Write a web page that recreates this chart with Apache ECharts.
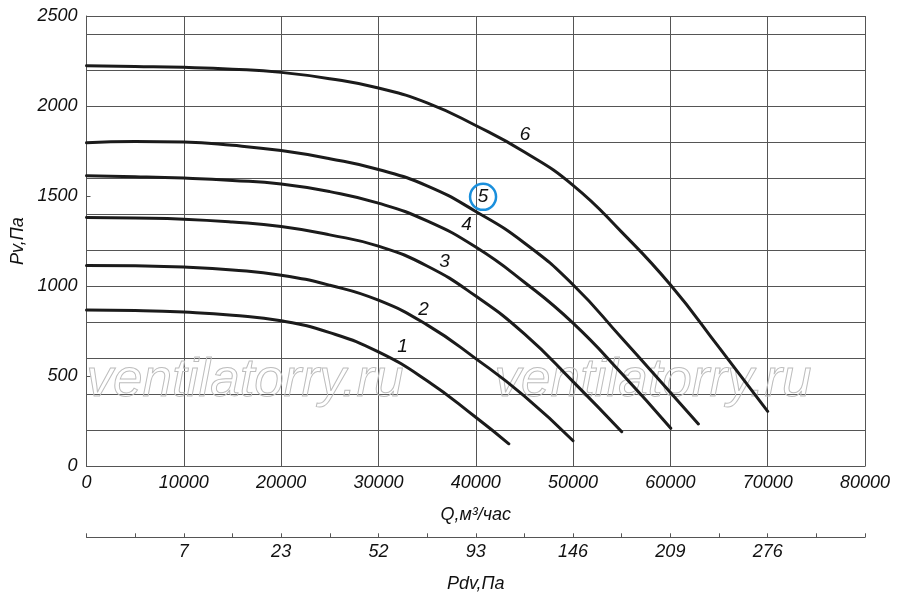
<!DOCTYPE html>
<html>
<head>
<meta charset="utf-8">
<script src="https://cdn.jsdelivr.net/npm/echarts@6/dist/echarts.min.js"></script>
<style>
html,body{margin:0;padding:0;background:#fff;}
#chart{width:900px;height:604px;}
</style>
</head>
<body>
<div id="chart"></div>
<script>
// ---- data (Q, м³/час ; Pv, Па) ----
const curve1 = [[0,868],[5000,865],[10000,856],[15000,839],[20000,808],[25000,742],[30000,635],[35000,475],[40000,272],[43400,125]];
const curve2 = [[0,1115],[5000,1113],[10000,1106],[15000,1090],[20000,1061],[25000,1005],[30000,922],[35000,785],[40000,598],[45000,390],[50000,142]];
const curve3 = [[0,1381],[5000,1378],[10000,1372],[15000,1356],[20000,1331],[25000,1285],[30000,1222],[35000,1112],[40000,945],[45000,735],[50000,470],[55000,192]];
const curve4 = [[0,1613],[5000,1608],[10000,1600],[15000,1587],[20000,1567],[25000,1525],[30000,1461],[35000,1362],[40000,1217],[45000,1022],[50000,795],[55000,515],[60040,211]];
const curve5 = [[0,1796],[5000,1803],[10000,1800],[15000,1782],[20000,1753],[25000,1708],[30000,1648],[35000,1557],[40000,1415],[45000,1240],[50000,1008],[55000,712],[60000,410],[62880,235]];
const curve6 = [[0,2224],[5000,2220],[10000,2215],[15000,2205],[20000,2187],[25000,2152],[30000,2100],[35000,2018],[40000,1892],[45000,1745],[50000,1560],[55000,1300],[60000,1008],[65000,660],[70000,305]];
const curves = [curve1, curve2, curve3, curve4, curve5, curve6];
// curve number labels: [text, Q, Pv]
const curveLabels = [['1',32480,663],['2',34630,868],['3',36790,1135],['4',39050,1340],['5',40750,1496],['6',45070,1841]];
const circledLabel = '5';
// dynamic pressure scale
const pdvQ = [10000,20000,30000,40000,50000,60000,70000];
const pdvLabels = ['7','23','52','93','146','209','276'];
const watermark = 'ventilatorry.ru';

const FONT = '"Liberation Sans", Arial, sans-serif';
const TXT = '#111';
const GRIDC = '#555';

const chart = echarts.init(document.getElementById('chart'), null, {renderer:'canvas'});

const series = curves.map((c, i) => ({
  name: 'curve' + (i+1),
  type: 'line',
  xAxisIndex: 0, yAxisIndex: 0,
  data: c,
  smooth: 0.5,
  symbol: 'none',
  lineStyle: {color: '#1b1b1b', width: 3, cap: 'round'},
  z: 3,
  silent: true
}));

series.push({
  type: 'scatter',
  xAxisIndex: 0, yAxisIndex: 0,
  data: curveLabels.map(l => ({
    value: [l[1], l[2]],
    name: l[0],
    symbol: 'circle',
    symbolSize: l[0] === circledLabel ? 26 : 1,
    itemStyle: l[0] === circledLabel
      ? {color: 'rgba(255,255,255,0)', borderColor: '#1a8fdc', borderWidth: 2.5, opacity: 1}
      : {color: 'rgba(255,255,255,0)', borderWidth: 0, opacity: 1}
  })),
  itemStyle: {opacity: 1},
  label: {
    show: true, position: 'inside',
    formatter: p => p.name,
    color: TXT, fontSize: 19, fontStyle: 'italic', fontFamily: FONT, opacity: 1,
    textBorderWidth: 0, textBorderColor: 'transparent'
  },
  z: 4,
  silent: true
});

const option = {
  backgroundColor: '#fff',
  animation: false,
  grid: {left: 86.5, right: 35, top: 16, bottom: 137.7, containLabel: false},
  graphic: [
    {type:'text', x: 245, y: 381, z: 1, silent: true,
     style:{text: watermark, font: 'italic 53px ' + FONT, fill: 'rgba(255,255,255,0)', stroke: '#bdbdbd', lineWidth: 1, align:'center', verticalAlign:'middle', textAlign:'center', textVerticalAlign:'middle'}},
    {type:'text', x: 653, y: 381, z: 1, silent: true,
     style:{text: watermark, font: 'italic 53px ' + FONT, fill: 'rgba(255,255,255,0)', stroke: '#bdbdbd', lineWidth: 1, align:'center', verticalAlign:'middle', textAlign:'center', textVerticalAlign:'middle'}}
  ],
  xAxis: [
    {
      type: 'value', min: 0, max: 80000, interval: 10000,
      position: 'bottom',
      name: 'Q,м³/час', nameLocation: 'middle', nameGap: 40,
      nameTextStyle: {color: TXT, fontSize: 18, fontStyle: 'italic', fontFamily: FONT},
      axisLine: {show: true, onZero: false, lineStyle: {color: GRIDC, width: 1}},
      axisTick: {show: false},
      axisLabel: {show: true, margin: 8, color: TXT, fontSize: 18, fontStyle: 'italic', fontFamily: FONT,
                  formatter: v => String(v)},
      splitLine: {show: true, lineStyle: {color: GRIDC, width: 1}}
    },
    {
      type: 'value', min: 0, max: 80000, interval: 5000,
      position: 'bottom', offset: 71,
      name: 'Pdv,Па', nameLocation: 'middle', nameGap: 38,
      nameTextStyle: {color: TXT, fontSize: 18, fontStyle: 'italic', fontFamily: FONT},
      axisLine: {show: true, onZero: false, lineStyle: {color: GRIDC, width: 1}},
      axisTick: {show: true, inside: true, length: 4, lineStyle: {color: GRIDC}},
      axisLabel: {show: true, margin: 6, color: TXT, fontSize: 18, fontStyle: 'italic', fontFamily: FONT,
                  formatter: v => { const k = pdvQ.indexOf(v); return k >= 0 ? pdvLabels[k] : ''; }},
      splitLine: {show: false}
    }
  ],
  yAxis: [
    {
      type: 'value', min: 0, max: 2500, interval: 200,
      position: 'left',
      axisLine: {show: true, onZero: false, lineStyle: {color: GRIDC, width: 1}},
      axisTick: {show: false},
      axisLabel: {show: false},
      splitLine: {show: true, lineStyle: {color: GRIDC, width: 1}}
    },
    {
      type: 'value', min: 0, max: 2500, interval: 500,
      position: 'left',
      name: 'Pv,Па', nameLocation: 'middle', nameGap: 60, nameRotate: 90,
      nameTextStyle: {color: TXT, fontSize: 18, fontStyle: 'italic', fontFamily: FONT},
      axisLine: {show: false, onZero: false},
      axisTick: {show: true, inside: true, length: 4, lineStyle: {color: GRIDC}},
      axisLabel: {show: true, margin: 9, color: TXT, fontSize: 18, fontStyle: 'italic', fontFamily: FONT,
                  formatter: v => String(v)},
      splitLine: {show: false}
    }
  ],
  series: series
};

chart.setOption(option);
</script>
</body>
</html>
